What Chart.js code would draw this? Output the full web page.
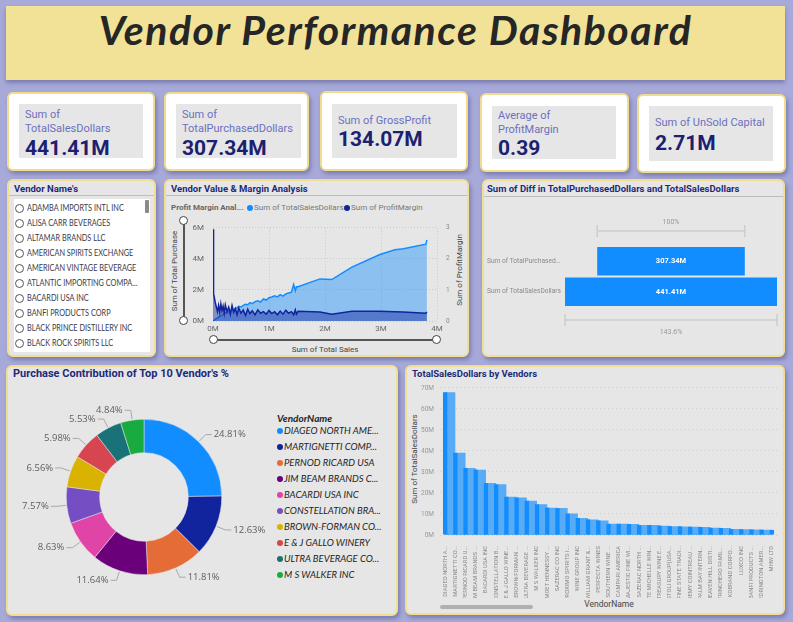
<!DOCTYPE html>
<html>
<head>
<meta charset="utf-8">
<title>Vendor Performance Dashboard</title>
<script src="https://cdn.jsdelivr.net/npm/chart.js@4.4.0/dist/chart.umd.min.js"></script>
<style>
  body { margin: 0; width: 793px; height: 622px; background: #a7aad9; position: relative; overflow: hidden; font-family: Roboto, "Open Sans", sans-serif; }
  .abs { position: absolute; }
  .panel { position: absolute; background: #e6e6e6; border: 2px solid #f1df8f; border-radius: 6px; box-shadow: 2px 3px 4px rgba(70,70,130,.45); box-sizing: border-box; }
  .card { position: absolute; background: #fff; border: 2px solid #f0dc8a; border-radius: 6px; box-shadow: 2px 3px 4px rgba(70,70,130,.45); box-sizing: border-box; }
  .inner { position: absolute; background: #e6e6e6; }
  .klabel { position: absolute; left: 6px; font-size: 11px; line-height: 14px; color: #6b70c0; }
  .kvalue { position: absolute; left: 6px; font-size: 21px; line-height: 23px; font-weight: bold; color: #1c2070; }
  .ptitle { position: absolute; font-size: 9.5px; font-weight: bold; color: #1e2a78; white-space: nowrap; line-height: 12px; }
  .sep { position: absolute; height: 1px; background: #bdbdbd; }
  .axt { position: absolute; font-size: 8px; color: #444; white-space: nowrap; line-height: 10px; }
  .rot { transform: translate(-50%, -50%) rotate(-90deg); }
  .item { position: absolute; left: 27px; font-family: Lato, Roboto, sans-serif; font-size: 8.5px; color: #3a3a4a; white-space: nowrap; line-height: 10px; transform: scaleX(0.86); transform-origin: left center; }
  .radio { position: absolute; left: 15px; width: 7px; height: 7px; border: 1px solid #555; border-radius: 50%; background: #fff; }
  .knob { position: absolute; width: 7px; height: 7px; border: 1.5px solid #444; border-radius: 50%; background: #fff; }
  .leg { position: absolute; left: 284px; font-family: Lato, Roboto, sans-serif; font-style: italic; font-size: 9.5px; color: #252423; white-space: nowrap; line-height: 12px; }
  .dot { position: absolute; width: 6px; height: 6px; border-radius: 50%; }
  .lg { position: absolute; top: 203px; font-size: 8px; line-height: 10px; color: #777; white-space: nowrap; }
</style>
</head>
<body>

<!-- Title -->
<div class="abs" style="left:6px;top:6px;width:779px;height:74px;background:#f1e297;box-shadow:0 3px 4px rgba(70,70,130,.45);"></div>
<div class="abs" style="left:6px;top:7px;width:779px;text-align:center;font-family:Lato, sans-serif;font-weight:bold;font-style:italic;font-size:41px;line-height:46px;color:#262626;letter-spacing:1.5px;">Vendor Performance Dashboard</div>

<!-- KPI cards -->
<div id="cards"></div>

<!-- Vendor list -->
<div class="panel" style="left:7px;top:179px;width:149px;height:178px;"></div>
<div class="ptitle" style="left:14px;top:183px;">Vendor Name's</div>
<div class="sep" style="left:9px;top:195px;width:145px;"></div>
<div class="abs" style="left:14px;top:199px;width:136px;height:153px;background:#fff;"></div>
<div class="abs" style="left:145px;top:200px;width:4px;height:13px;background:#8a8a8a;border-radius:1px;"></div>
<div id="vendorList"></div>

<!-- Area chart panel -->
<div class="panel" style="left:164px;top:179px;width:305px;height:178px;"></div>
<div class="ptitle" style="left:171px;top:183px;">Vendor Value &amp; Margin Analysis</div>
<div class="sep" style="left:166px;top:195px;width:301px;"></div>
<div class="lg" style="left:171px;color:#666;font-weight:bold;">Profit Margin Anal...</div>
<div class="dot" style="left:247px;top:205px;background:#118dff;"></div>
<div class="lg" style="left:254px;">Sum of TotalSalesDollars</div>
<div class="dot" style="left:344px;top:205px;background:#12239e;"></div>
<div class="lg" style="left:351px;">Sum of ProfitMargin</div>
<div class="abs" style="left:183px;top:221px;width:2px;height:100px;background:#555;"></div>
<div class="knob" style="left:179px;top:216px;"></div>
<div class="knob" style="left:179px;top:316px;"></div>
<div class="abs" style="left:214px;top:339px;width:223px;height:2px;background:#555;"></div>
<div class="knob" style="left:209px;top:335px;"></div>
<div class="knob" style="left:432px;top:335px;"></div>
<div class="axt rot" style="left:175px;top:271px;">Sum of Total Purchase</div>
<div class="axt rot" style="left:460px;top:270px;">Sum of ProfitMargin</div>
<div class="axt" style="left:325px;top:345px;transform:translateX(-50%);">Sum of Total Sales</div>
<canvas id="areaChart" class="abs" style="left:186px;top:214px;" width="278" height="122"></canvas>

<!-- Funnel panel -->
<div class="panel" style="left:482px;top:179px;width:303px;height:178px;"></div>
<div class="ptitle" style="left:487px;top:183px;">Sum of Diff in TotalPurchasedDollars and TotalSalesDollars</div>
<div class="sep" style="left:484px;top:196px;width:299px;"></div>
<canvas id="funnelChart" class="abs" style="left:483px;top:210px;" width="300" height="135"></canvas>

<!-- Donut panel -->
<div class="panel" style="left:6px;top:365px;width:392px;height:251px;"></div>
<div class="ptitle" style="left:13px;top:368px;font-size:11px;">Purchase Contribution of Top 10 Vendor's %</div>
<div class="abs" style="left:277px;top:412px;font-family:Lato, sans-serif;font-weight:bold;font-style:italic;font-size:10px;line-height:12px;color:#252423;">VendorName</div>
<div id="donutLegend"></div>
<canvas id="donutChart" class="abs" style="left:14px;top:372px;" width="260" height="250"></canvas>

<!-- Bar panel -->
<div class="panel" style="left:405px;top:365px;width:380px;height:250px;"></div>
<div class="ptitle" style="left:412px;top:368px;">TotalSalesDollars by Vendors</div>
<div class="axt rot" style="left:415px;top:459px;">Sum of TotalSalesDollars</div>
<div class="axt" style="left:609px;top:599px;transform:translateX(-50%);font-size:8.5px;">VendorName</div>
<div class="abs" style="left:440px;top:605px;width:93px;height:4px;background:#b0b0b0;border-radius:2px;"></div>
<canvas id="barChart" class="abs" style="left:408px;top:378px;" width="374" height="220"></canvas>

<script>
// KPI cards
const kpiLabels = ['Sum of<br>TotalSalesDollars', 'Sum of<br>TotalPurchasedDollars', 'Sum of GrossProfit', 'Average of<br>ProfitMargin', 'Sum of UnSold Capital'];
const kpiValues = ['441.41M', '307.34M', '134.07M', '0.39', '2.71M'];

// Vendor slicer
const vendorNames = ['ADAMBA IMPORTS INTL INC', 'ALISA CARR BEVERAGES', 'ALTAMAR BRANDS LLC', 'AMERICAN SPIRITS EXCHANGE',
  'AMERICAN VINTAGE BEVERAGE', 'ATLANTIC IMPORTING COMPA...', 'BACARDI USA INC', 'BANFI PRODUCTS CORP',
  'BLACK PRINCE DISTILLERY INC', 'BLACK ROCK SPIRITS LLC'];

// Area chart (millions / margin)
const salesX = [0, 0.01, 0.02, 0.04, 0.06, 0.08, 0.10, 0.12, 0.14, 0.16, 0.18, 0.20, 0.22, 0.25, 0.28, 0.31, 0.34, 0.37, 0.40, 0.43,
  0.46, 0.50, 0.54, 0.58, 0.62, 0.66, 0.70, 0.75, 0.80, 0.85, 0.90, 0.95, 1.00, 1.05, 1.10, 1.15, 1.20, 1.25, 1.30, 1.35,
  1.40, 1.44, 1.47, 1.49, 1.52, 1.91, 2.12, 2.48, 2.98, 3.25, 3.40, 3.80, 3.82];
const purchaseY = [0, 0.02, 0.05, 0.1, 0.15, 0.2, 0.25, 0.3, 0.35, 0.38, 0.42, 0.45, 0.5, 0.55, 0.6, 0.66, 0.7, 0.75, 0.8, 0.85,
  0.95, 0.9, 1.0, 1.08, 1.05, 1.18, 1.12, 1.25, 1.3, 1.22, 1.42, 1.35, 1.5, 1.55, 1.62, 1.55, 1.7, 1.6, 1.75, 1.8,
  1.85, 2.35, 1.95, 2.2, 2.2, 2.71, 2.67, 3.47, 4.28, 4.59, 4.65, 4.95, 5.22];
const marginY = [2.95, 0.86, 0.8, 0.6, 0.45, 0.3, 0.5, 0.28, 0.55, 0.33, 0.48, 0.25, 0.52, 0.3, 0.45, 0.22, 0.5, 0.28, 0.4, 0.2,
  0.42, 0.25, 0.35, 0.18, 0.38, 0.24, 0.33, 0.2, 0.36, 0.25, 0.3, 0.22, 0.34, 0.24, 0.3, 0.2, 0.32, 0.22, 0.35, 0.25,
  0.3, 0.2, 0.36, 0.22, 0.31, 0.29, 0.22, 0.31, 0.31, 0.3, 0.29, 0.25, 0.29];

// Funnel
const funnelLabels = ['Sum of TotalPurchased...', 'Sum of TotalSalesDollars'];
const funnelValues = [307.34, 441.41];

// Donut
const top10Names = ['DIAGEO NORTH AME...', 'MARTIGNETTI COMP...', 'PERNOD RICARD USA', 'JIM BEAM BRANDS C...', 'BACARDI USA INC',
  'CONSTELLATION BRA...', 'BROWN-FORMAN CO...', 'E & J GALLO WINERY', 'ULTRA BEVERAGE CO...', 'M S WALKER INC'];
const top10Share = [24.81, 12.63, 11.81, 11.64, 8.63, 7.57, 6.56, 5.98, 5.53, 4.84];
const top10Colors = ['#118dff', '#12239e', '#e66c37', '#6b007b', '#e044a7', '#744ec2', '#d9b300', '#d64550', '#197278', '#1aab40'];

// Bar chart (millions)
const vendorLabels = ['DIAGEO NORTH A...', 'MARTIGNETTI CO...', 'PERNOD RICARD U...', 'JIM BEAM BRANDS ...', 'BACARDI USA INC',
  'CONSTELLATION B...', 'E & J GALLO WINE...', 'BROWN-FORMAN ...', 'ULTRA BEVERAGE ...', 'M S WALKER INC',
  'MOET HENNESSY ...', 'SAZERAC CO INC', 'PROXIMO SPIRITS I...', 'WINE GROUP INC', 'WILLIAM GRANT &...',
  'PERFECTA WINES', 'SOUTHERN WINE ...', 'CAMPARI AMERICA', 'MAJESTIC FINE WI...', 'SAZERAC NORTH ...',
  'STE MICHELLE WIN...', 'TREASURY WINE E...', 'STOLI GROUP(USA...', 'FINE STATE TRADI...', 'REMY COINTREAU ...',
  'PALM BAY INTERN...', 'HEAVEN HILL DISTI...', 'TRINCHERO FAMIL...', 'KOBRAND CORPO...', 'LUXCO INC',
  'BANFI PRODUCTS ...', 'EDRINGTON AMER...', 'MHW LTD'];
const vendorSales = [67.9, 39.1, 31.9, 31.1, 24.7, 24.1, 18.2, 17.8, 16.3, 14.6,
  13.0, 12.8, 10.2, 8.1, 7.4, 6.9, 5.3, 5.3, 5.2, 4.7,
  4.7, 4.4, 4.2, 4.1, 3.9, 3.8, 3.4, 3.3, 2.8, 2.7,
  2.6, 2.5, 2.4];
const salesTicks = [0, 10, 20, 30, 40, 50, 60, 70];

// ---- build HTML bits ----
const cardBoxes = [
  [7, 92, 148, 79, 19, 104, 124, 54, 4, 33],
  [164, 92, 145, 79, 176, 104, 125, 54, 4, 33],
  [320, 91, 148, 80, 332, 104, 125, 54, 10, 24],
  [480, 93, 149, 79, 492, 106, 124, 53, 3, 31],
  [637, 94, 149, 79, 649, 106, 124, 55, 10, 26]
];
let html = '';
cardBoxes.forEach((b, i) => {
  html += `<div class="card" style="left:${b[0]}px;top:${b[1]}px;width:${b[2]}px;height:${b[3]}px;"></div>`;
  html += `<div class="inner" style="left:${b[4]}px;top:${b[5]}px;width:${b[6]}px;height:${b[7]}px;">` +
    `<div class="klabel" style="top:${b[8]}px;">${kpiLabels[i]}</div>` +
    `<div class="kvalue" style="top:${b[9]}px;">${kpiValues[i]}</div></div>`;
});
document.getElementById('cards').innerHTML = html;

html = '';
vendorNames.forEach((n, i) => {
  const y = 208 + i * 15;
  html += `<div class="radio" style="top:${y - 4.5}px;"></div><div class="item" style="top:${y - 5}px;">${n}</div>`;
});
document.getElementById('vendorList').innerHTML = html;

html = '';
top10Names.forEach((n, i) => {
  const y = 431 + i * 16;
  html += `<div class="dot" style="left:277px;top:${y - 3}px;background:${top10Colors[i]};"></div><div class="leg" style="top:${y - 6}px;">${n}</div>`;
});
document.getElementById('donutLegend').innerHTML = html;

Chart.defaults.font.family = 'Roboto, "Open Sans", sans-serif';
Chart.defaults.animation = false;
Chart.defaults.responsive = false;
Chart.defaults.devicePixelRatio = 1;
Chart.defaults.plugins.legend.display = false;
Chart.defaults.plugins.tooltip.enabled = false;

const dotted = { color: '#c9c9c9', lineWidth: 1 };

// ---- area chart ----
new Chart(document.getElementById('areaChart'), {
  type: 'line',
  data: {
    datasets: [
      {
        label: 'Sum of ProfitMargin',
        data: salesX.map((x, i) => ({ x: x, y: marginY[i] })),
        yAxisID: 'y1',
        borderColor: '#12239e', borderWidth: 1.5,
        backgroundColor: 'rgba(18,35,158,0.45)', fill: 'origin',
        pointRadius: 0, tension: 0, order: 0
      },
      {
        label: 'Sum of TotalSalesDollars',
        data: salesX.map((x, i) => ({ x: x, y: purchaseY[i] })),
        yAxisID: 'y',
        borderColor: '#118dff', borderWidth: 1.5,
        backgroundColor: 'rgba(17,141,255,0.42)', fill: 'origin',
        pointRadius: 0, tension: 0, order: 1
      }
    ]
  },
  options: {
    layout: { padding: { top: 7, left: 0, right: 0, bottom: 0 } },
    scales: {
      x: {
        type: 'linear', min: 0, max: 4,
        afterFit: s => { s.height = 15; },
        ticks: { stepSize: 1, padding: 3, color: '#666', font: { size: 8 }, callback: v => v + 'M' },
        grid: { ...dotted, drawTicks: false }, border: { display: false, dash: [1, 2] }
      },
      y: {
        position: 'left', min: 0, max: 6,
        afterFit: s => { s.width = 27; },
        ticks: { stepSize: 2, padding: 9, color: '#666', font: { size: 8 }, callback: v => v + 'M' },
        grid: { ...dotted, drawTicks: false }, border: { display: false, dash: [1, 2] }
      },
      y1: {
        position: 'right', min: 0, max: 3,
        afterFit: s => { s.width = 27; },
        ticks: { stepSize: 1, padding: 9, color: '#888', font: { size: 6.5 } },
        grid: { display: false, drawTicks: false }, border: { display: false }
      }
    }
  }
});

// ---- funnel ----
const funnelMax = Math.max(...funnelValues);
const funnelDeco = {
  id: 'funnelDeco',
  afterDatasetsDraw(chart) {
    const { ctx, chartArea } = chart;
    const meta = chart.getDatasetMeta(0);
    ctx.save();
    ctx.textBaseline = 'middle';
    meta.data.forEach((bar, i) => {
      ctx.fillStyle = '#fff';
      ctx.font = 'bold 7.5px Roboto';
      ctx.textAlign = 'center';
      ctx.fillText(funnelValues[i].toFixed(2) + 'M', (bar.x + bar.base) / 2, bar.y);
      ctx.fillStyle = '#8a8a8a';
      ctx.font = '6.6px Roboto';
      ctx.textAlign = 'left';
      ctx.fillText(funnelLabels[i], 4, bar.y);
    });
    const bracket = (b, y, txt, ty) => {
      const x1 = Math.min(b.x, b.base), x2 = Math.max(b.x, b.base);
      ctx.strokeStyle = '#cdcdcd';
      ctx.lineWidth = 1.5;
      ctx.beginPath();
      ctx.moveTo(x1, y); ctx.lineTo(x2, y);
      ctx.moveTo(x1, y - 6); ctx.lineTo(x1, y + 6);
      ctx.moveTo(x2, y - 6); ctx.lineTo(x2, y + 6);
      ctx.stroke();
      ctx.fillStyle = '#999';
      ctx.font = '7px Roboto';
      ctx.textAlign = 'center';
      ctx.fillText(txt, (x1 + x2) / 2, ty);
    };
    const first = meta.data[0], last = meta.data[meta.data.length - 1];
    bracket(first, chartArea.top - 15, '100%', chartArea.top - 24);
    const pct = (funnelValues[funnelValues.length - 1] / funnelValues[0] * 100).toFixed(1) + '%';
    bracket(last, chartArea.bottom + 13, pct, chartArea.bottom + 25);
    ctx.restore();
  }
};
new Chart(document.getElementById('funnelChart'), {
  type: 'bar',
  data: {
    labels: funnelLabels,
    datasets: [{
      data: funnelValues.map(v => [(funnelMax - v) / 2, (funnelMax + v) / 2]),
      backgroundColor: '#118dff',
      barPercentage: 0.93, categoryPercentage: 1, borderSkipped: false
    }]
  },
  options: {
    indexAxis: 'y',
    layout: { padding: { left: 82, right: 6, top: 36, bottom: 38 } },
    scales: {
      x: { display: false, min: 0, max: funnelMax },
      y: { display: false }
    }
  },
  plugins: [funnelDeco]
});

// ---- donut ----
const donutLabels = {
  id: 'donutLabels',
  afterDatasetsDraw(chart) {
    const { ctx } = chart;
    const meta = chart.getDatasetMeta(0);
    ctx.save();
    ctx.font = '9.5px "Open Sans"';
    ctx.fillStyle = '#605e5c';
    ctx.strokeStyle = '#a8a8a8';
    ctx.lineWidth = 1;
    ctx.textBaseline = 'middle';
    meta.data.forEach((arc, i) => {
      const a = (arc.startAngle + arc.endAngle) / 2;
      const r = arc.outerRadius;
      const x1 = arc.x + Math.cos(a) * (r + 1), y1 = arc.y + Math.sin(a) * (r + 1);
      const x2 = arc.x + Math.cos(a) * (r + 10), y2 = arc.y + Math.sin(a) * (r + 10);
      const right = Math.cos(a) >= 0;
      const x3 = x2 + (right ? 6 : -6);
      ctx.beginPath();
      ctx.moveTo(x1, y1); ctx.lineTo(x2, y2); ctx.lineTo(x3, y2);
      ctx.stroke();
      ctx.textAlign = right ? 'left' : 'right';
      ctx.fillText(top10Share[i].toFixed(2) + '%', x3 + (right ? 2 : -2), y2);
    });
    ctx.restore();
  }
};
new Chart(document.getElementById('donutChart'), {
  type: 'doughnut',
  data: {
    labels: top10Names,
    datasets: [{ data: top10Share, backgroundColor: top10Colors, borderColor: '#e6e6e6', borderWidth: 0.5 }]
  },
  options: {
    cutout: '57%',
    layout: { padding: { left: 52, right: 52, top: 47, bottom: 47 } }
  },
  plugins: [donutLabels]
});

// ---- bar chart ----
new Chart(document.getElementById('barChart'), {
  data: {
    labels: vendorLabels,
    datasets: [
      {
        type: 'bar', data: vendorSales, backgroundColor: '#118dff',
        barPercentage: 0.42, categoryPercentage: 1, order: 0
      },
      {
        type: 'line', data: vendorSales, stepped: 'before', fill: 'origin',
        backgroundColor: '#58abf5', borderWidth: 0, pointRadius: 0, order: 1
      }
    ]
  },
  options: {
    layout: { padding: { top: 8, right: 5, left: 0, bottom: 0 } },
    scales: {
      x: {
        afterFit: s => { s.height = 63; },
        ticks: { autoSkip: false, maxRotation: 90, minRotation: 90, padding: 3, color: '#888', font: { size: 5.8 } },
        grid: { display: false }, border: { display: false }
      },
      y: {
        min: 0, max: salesTicks[salesTicks.length - 1],
        afterFit: s => { s.width = 32; },
        afterBuildTicks: s => { s.ticks = salesTicks.map(v => ({ value: v })); },
        ticks: { padding: 6, color: '#999', font: { size: 6.5 }, callback: v => v + 'M' },
        grid: { color: '#cfcfcf', drawTicks: false }, border: { display: false, dash: [1, 3] }
      }
    }
  }
});
</script>
</body>
</html>
